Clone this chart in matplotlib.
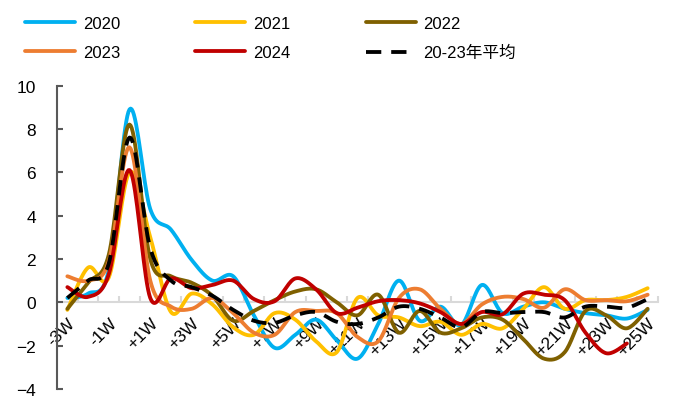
import numpy as np
import matplotlib.pyplot as plt

plt.rcParams['font.family'] = ['Liberation Sans', 'Noto Sans CJK SC']

# weeks around Spring Festival
weeks = ['-3W', '-2W', '-1W', '0W', '+1W', '+2W', '+3W', '+4W', '+5W', '+6W',
         '+7W', '+8W', '+9W', '+10W', '+11W', '+12W', '+13W', '+14W', '+15W',
         '+16W', '+17W', '+18W', '+19W', '+20W', '+21W', '+22W', '+23W',
         '+24W', '+25W']

y2020 = [0.2, 0.4, 1.5, 8.9, 4.3, 3.35, 1.95, 1.0, 1.2, -0.6, -2.1, -1.5, -0.8,
         -1.75, -2.6, -1.0, 1.0, -0.85, -0.2, -1.05, 0.8, -0.5, -0.2, 0.0,
         -0.3, -0.5, -0.6, -0.75, -0.35]
y2021 = [-0.35, 1.6, 1.15, 6.0, 3.0, -0.45, 0.4, -0.1, -1.15, -1.5, -0.5, -0.8,
         -1.8, -2.3, 0.2, -0.6, -0.7, -1.1, -0.9, -1.5, -1.0, -1.2, -0.3, 0.7,
         -0.3, 0.1, 0.1, 0.25, 0.65]
y2022 = [-0.3, 0.9, 2.2, 8.2, 2.0, 1.2, 0.9, 0.3, -0.85, -0.4, 0.1, 0.5, 0.6,
         0.0, -0.6, 0.35, -1.4, -0.4, -1.4, -1.2, -0.7, -0.8, -1.7, -2.6,
         -2.3, -0.4, -0.6, -1.2, -0.3]
y2023 = [1.2, 1.0, 1.9, 7.15, 1.0, -0.2, -0.3, 0.2, -0.5, -1.4, -1.5, -0.45,
         -0.4, -0.5, -1.6, -1.8, 0.2, 0.6, -0.3, -1.0, -0.1, 0.25, 0.15,
         -0.25, 0.6, 0.1, 0.1, 0.05, 0.35]
y2024 = [0.7, 0.25, 1.3, 6.1, 0.2, 1.1, 0.65, 0.8, 1.0, 0.15, 0.05, 1.1, 0.6,
         -0.5, -0.25, 0.05, 0.1, -0.05, -0.45, -1.0, -0.45, -0.55, 0.4, 0.35,
         0.1, -1.4, -2.35, -1.9]
y_avg = [0.2, 1.0, 1.8, 7.6, 2.5, 1.0, 0.7, 0.3, -0.35, -0.85, -0.95, -0.6,
         -0.45, -0.9, -1.0, -0.7, -0.2, -0.3, -0.7, -1.15, -0.45, -0.5,
         -0.45, -0.45, -0.7, -0.2, -0.2, -0.25, 0.15]


def smooth(y, steps=20):
    # Excel-like smoothed line: Catmull-Rom segments as cubic Bezier
    y = np.asarray(y, float)
    x = np.arange(len(y), dtype=float)
    px = np.concatenate([[x[0]], x, [x[-1]]])
    py = np.concatenate([[y[0]], y, [y[-1]]])
    t = np.linspace(0, 1, steps)[:, None]
    xs, ys = [], []
    for i in range(1, len(px) - 2):
        p0 = np.array([px[i], py[i]])
        p3 = np.array([px[i + 1], py[i + 1]])
        c1 = p0 + (p3 - np.array([px[i - 1], py[i - 1]])) / 6
        c2 = p3 - (np.array([px[i + 2], py[i + 2]]) - p0) / 6
        b = ((1 - t) ** 3) * p0 + 3 * ((1 - t) ** 2) * t * c1 \
            + 3 * (1 - t) * t ** 2 * c2 + t ** 3 * p3
        xs.append(b[:, 0])
        ys.append(b[:, 1])
    return np.concatenate(xs), np.concatenate(ys)


fig = plt.figure(figsize=(6.86, 4.06), dpi=100)
ax = fig.add_axes([57 / 686, 0.0394, 601 / 686, 0.7475])

lw = 2.75
series = [(y2020, '#00B0F0', '2020'), (y2021, '#FFC000', '2021'),
          (y2022, '#7F6000', '2022'), (y2023, '#ED7D31', '2023'),
          (y2024, '#C00000', '2024')]
handles = {}
for vals, col, name in series:
    sx, sy = smooth(vals)
    handles[name], = ax.plot(sx, sy, color=col, lw=lw, label=name,
                             solid_capstyle='round', zorder=3)
sx, sy = smooth(y_avg)
handles['avg'], = ax.plot(sx, sy, color='black', lw=lw, ls=(0, (4.0, 2.6)),
                          label='20-23年平均', zorder=4)

ax.set_xlim(-0.38, 28.45)
ax.set_ylim(-4, 10)

for s in ['top', 'right']:
    ax.spines[s].set_visible(False)
ax.spines['left'].set_color('#595959')
ax.spines['left'].set_linewidth(1.5)
ax.spines['bottom'].set_position(('data', 0))
ax.spines['bottom'].set_color('#D9D9D9')
ax.spines['bottom'].set_linewidth(1.5)
ax.spines['bottom'].set_zorder(1)

ax.set_yticks(range(-4, 11, 2))
ax.tick_params(axis='y', direction='in', length=4.5, width=1.5,
               color='#595959', pad=15, labelsize=12.5)

ax.set_xticks(np.arange(-0.5, 28.6, 1))
ax.set_xticklabels([])
ax.set_xticks(range(0, 29, 2), weeks[::2], minor=True)
ax.tick_params(axis='x', which='major', direction='in', length=4,
               width=1.5, color='#D9D9D9')
ax.tick_params(axis='x', which='minor', length=0, pad=9, labelsize=12.5)
plt.setp(ax.get_xticklabels(minor=True), rotation=45, ha='right',
         va='top', rotation_mode='anchor')

order = ['2020', '2023', '2021', '2024', '2022', 'avg']
fig.legend([handles[k] for k in order], [handles[k].get_label() for k in order],
           loc='upper left', bbox_to_anchor=(25 / 686, 1 - 17 / 406),
           ncol=3, frameon=False, fontsize=12, handlelength=3.0,
           handletextpad=0.48, columnspacing=4.5, labelspacing=0.85,
           borderpad=0, borderaxespad=0)

fig.savefig('out.png', dpi=100)
